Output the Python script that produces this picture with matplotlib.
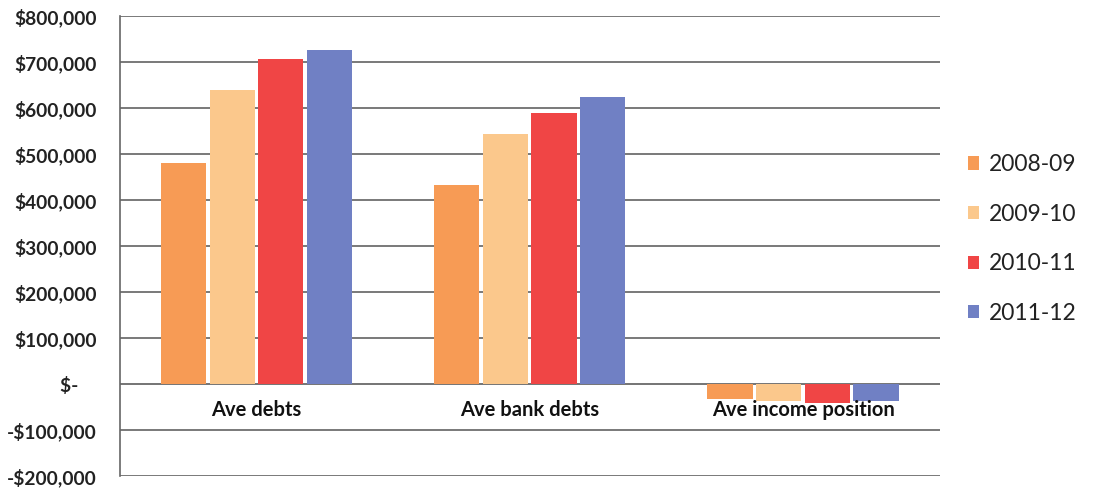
import numpy as np
import matplotlib.pyplot as plt
from matplotlib.ticker import FuncFormatter

categories = ["Ave debts", "Ave bank debts", "Ave income position"]
years = ["2008-09", "2009-10", "2010-11", "2011-12"]
v_2008 = [480000, 432000, -32000]
v_2009 = [639000, 545000, -37000]
v_2010 = [708000, 589000, -42000]
v_2011 = [726000, 624000, -37000]
colors = ["#F79B55", "#FBC88C", "#F04545", "#7080C4"]

plt.rcParams['font.family'] = ['Lato', 'DejaVu Sans']

fig = plt.figure(figsize=(10.99, 4.88), dpi=100)
ax = fig.add_axes([0.109, 0.0246, 0.746, 0.942])

x = np.arange(len(categories))
width = 0.165
series = [v_2008, v_2009, v_2010, v_2011]
for i, (vals, c, lab) in enumerate(zip(series, colors, years)):
    ax.bar(x + (i - 1.5) * (width + 0.013), vals, width, color=c, label=lab, zorder=3)

ax.set_xlim(-0.5, 2.5)
ax.set_ylim(-200000, 800000)
ax.set_yticks(np.arange(-200000, 800001, 100000))


def fmt(v, pos):
    if v == 0:
        return "$-    "
    if v < 0:
        return "-${:,.0f}".format(-v)
    return "${:,.0f}".format(v)


ax.yaxis.set_major_formatter(FuncFormatter(fmt))
ax.tick_params(axis='y', length=0, pad=16.5, labelsize=13.8)
for t in ax.get_yticklabels():
    t.set_fontweight('bold')
    t.set_color('#222222')
ax.set_xticks([])
ax.grid(axis='y', color='#555555', linewidth=1.1, zorder=0)
for s in ['top', 'right', 'bottom']:
    ax.spines[s].set_visible(False)
ax.spines['left'].set_color('#666666')
ax.spines['left'].set_linewidth(1.2)
ax.axhline(0, color='#777777', linewidth=1.2, zorder=2)

for xi, cat in zip(x, categories):
    ax.annotate(cat, xy=(xi, 0), xytext=(0, -19), textcoords='offset points',
                ha='center', va='center', fontsize=14.5, fontweight='bold',
                color='#111111', zorder=4)

leg = fig.legend(loc='center left', bbox_to_anchor=(0.862, 0.51), frameon=False,
                 fontsize=16.5, handlelength=0.5, handleheight=0.5,
                 handletextpad=0.4, labelspacing=1.25)
for t in leg.get_texts():
    t.set_color('#222222')

fig.savefig("out.png", dpi=100)
